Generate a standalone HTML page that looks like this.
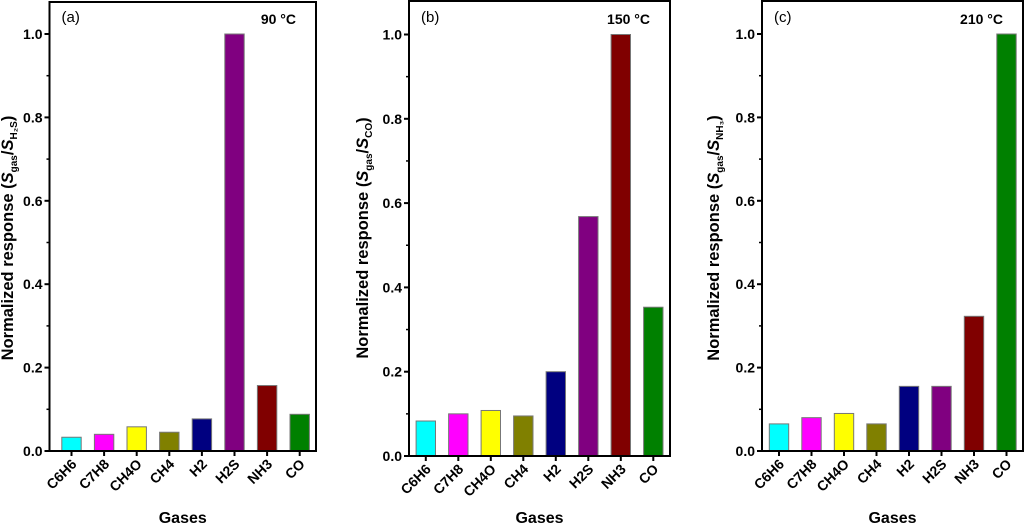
<!DOCTYPE html>
<html><head><meta charset="utf-8"><style>
body{margin:0;background:#fff}
svg{display:block}
text{font-family:"Liberation Sans",Arial,sans-serif}
</style></head><body>
<svg id="chart" width="1024" height="528"></svg>
<script>
const categories=["C6H6","C7H8","CH4O","CH4","H2","H2S","NH3","CO"];
const colors=["#00ffff","#ff00ff","#ffff00","#808000","#000080","#800080","#800000","#008000"];
const valuesA=[0.033,0.040,0.058,0.045,0.077,1.0,0.157,0.088];
const valuesB=[0.083,0.100,0.108,0.095,0.200,0.568,1.0,0.353];
const valuesC=[0.065,0.080,0.090,0.065,0.155,0.155,0.323,1.0];
const yTicks=[0,0.2,0.4,0.6,0.8,1.0];
const yTickLabels=["0.0","0.2","0.4","0.6","0.8","1.0"];
const panelLabels=["(a)","(b)","(c)"];
const temps=["90 °C","150 °C","210 °C"];
const refs=["H\u2082S","CO","NH\u2083"];

const NS="http://www.w3.org/2000/svg";
const svg=document.getElementById('chart');
function mk(tag,attrs,parent){const e=document.createElementNS(NS,tag);for(const k in attrs)e.setAttribute(k,attrs[k]);(parent||svg).appendChild(e);return e;}

const panels=[
 {L:49.5,R:316,T:2,y0:451,y1:34,first:71.5,pitch:32.6,vals:valuesA,ylx:13},
 {L:409,R:670,T:1,y0:456,y1:34.5,first:425.8,pitch:32.5,vals:valuesB,ylx:368},
 {L:762,R:1023,T:1,y0:451,y1:34,first:779,pitch:32.5,vals:valuesC,ylx:719}
];
panels.forEach((p,pi)=>{
 const g=mk('g',{});
 
 
 const y=v=>p.y0+(p.y1-p.y0)*v;
 const x=i=>p.first+i*p.pitch;
 p.vals.forEach((v,i)=>{
  const r=mk('rect',{x:x(i)-9.7,y:y(v),width:19.4,height:p.y0-y(v),fill:colors[i],stroke:'#777','stroke-width':1},g);
  
  
  const t=mk('text',{x:0,y:0,'font-size':14,'font-weight':'bold','text-anchor':'end',transform:`translate(${x(i)+6},${p.y0+14}) rotate(-45)`},g);
  t.textContent=categories[i];
  
  
  mk('line',{x1:x(i),x2:x(i),y1:p.y0,y2:p.y0+5,stroke:'#000','stroke-width':2},g);
 });
 const fr=mk('rect',{x:p.L,y:p.T,width:p.R-p.L,height:p.y0-p.T,fill:'none',stroke:'#000','stroke-width':2},g);
 
 
 yTicks.forEach((v,i)=>{
  mk('line',{x1:p.L-5,x2:p.L,y1:y(v),y2:y(v),stroke:'#000','stroke-width':2},g);
  if(i<yTicks.length-1)mk('line',{x1:p.L-3,x2:p.L,y1:y(v+0.1),y2:y(v+0.1),stroke:'#000','stroke-width':1.5},g);
  const t=mk('text',{x:p.L-7,y:y(v)+5,'font-size':14,'font-weight':'bold','text-anchor':'end'},g);
  t.textContent=yTickLabels[i];
  
  
 });
 const pl=mk('text',{x:p.L+12,y:22,'font-size':15},g);
 pl.textContent=panelLabels[pi];
 
 
 const tp=mk('text',{x:p.R-20,y:24,'font-size':14,'font-weight':'bold','text-anchor':'end'},g);
 tp.textContent=temps[pi];
 
 
 const xl=mk('text',{x:(p.L+p.R)/2,y:523,'font-size':16,'font-weight':'bold','text-anchor':'middle'},g);
 xl.textContent="Gases";
 
 
 const yl=mk('text',{x:0,y:0,'font-size':16.5,'font-weight':'bold','text-anchor':'middle',transform:`translate(${p.ylx},238) rotate(-90)`},g);
 
 
 yl.innerHTML=`Normalized response (<tspan font-style="italic">S</tspan><tspan font-size="10" dy="4">gas</tspan><tspan dy="-4">/</tspan><tspan font-style="italic">S</tspan><tspan font-size="10" dy="4">${refs[pi]}</tspan><tspan dy="-4">)</tspan>`;
});
</script>
</body></html>
